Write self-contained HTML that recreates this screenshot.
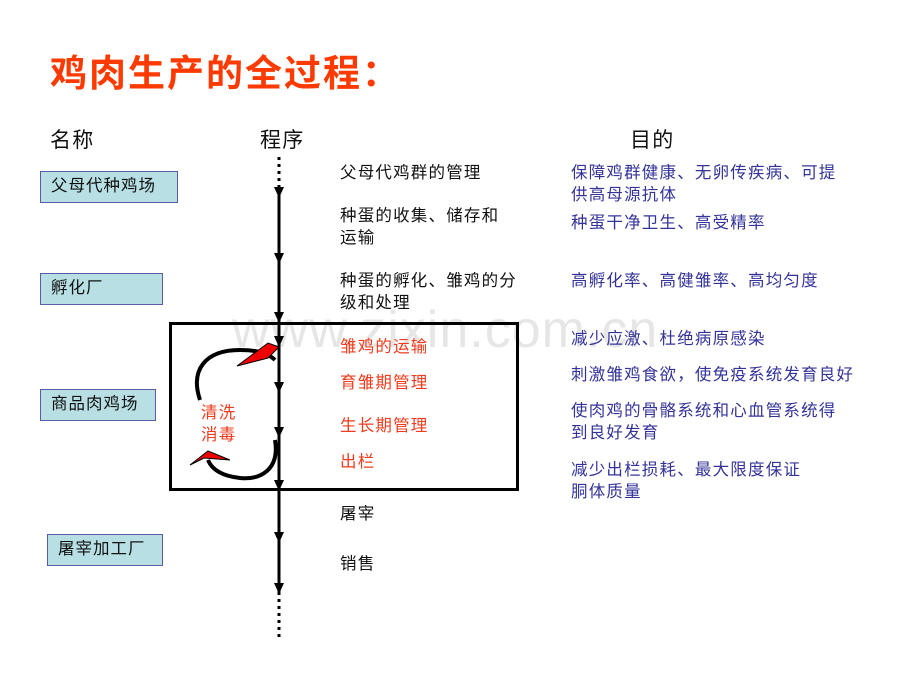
<!DOCTYPE html>
<html><head><meta charset="utf-8"><style>
html,body{margin:0;padding:0;background:#fff;}
body{width:920px;height:690px;position:relative;overflow:hidden;font-family:"Liberation Sans","Noto Sans CJK SC",sans-serif;}
.t{position:absolute;white-space:nowrap;font-size:16.5px;line-height:22px;letter-spacing:1.2px;}
.k{color:#111;}
.r{color:#f03c1e;}
.b{color:#33339a;}
.box{position:absolute;background:#b8e0e4;border:1.5px solid #5a5aa8;font-size:16.5px;letter-spacing:1px;line-height:28px;padding-left:10px;box-sizing:border-box;color:#111;}
</style></head><body>
<div class="t" style="left:50px;top:50px;font-size:37px;line-height:48px;font-weight:bold;color:#ff3a00;letter-spacing:2px;">鸡肉生产的全过程：</div>
<div class="t" style="left:50px;top:127px;font-size:21px;line-height:28px;color:#111;">名称</div>
<div class="t" style="left:260px;top:127px;font-size:21px;line-height:28px;color:#111;">程序</div>
<div class="t" style="left:630px;top:127px;font-size:21px;line-height:28px;color:#111;">目的</div>

<div class="box" style="left:40px;top:171px;width:138px;height:32px;">父母代种鸡场</div>
<div class="box" style="left:40px;top:273px;width:123px;height:32px;">孵化厂</div>
<div class="box" style="left:40px;top:389px;width:116px;height:32px;">商品肉鸡场</div>
<div class="box" style="left:47px;top:534px;width:116px;height:32px;">屠宰加工厂</div>

<div style="position:absolute;left:232px;top:300px;font-size:52px;color:#e6e6e6;font-family:'Liberation Sans',sans-serif;letter-spacing:1px;">www.zixin.com.cn</div>

<svg width="920" height="690" style="position:absolute;left:0;top:0">
<g stroke="#000" stroke-width="3">
<line x1="279" y1="157" x2="279" y2="190" stroke-dasharray="3,4"/>
<line x1="279" y1="190" x2="279" y2="592"/>
<line x1="279" y1="592" x2="279" y2="640" stroke-dasharray="3,4"/>
</g>
<g fill="#000">
<polygon points="274,187 284,187 279,198"/>
<polygon points="274,253 284,253 279,264"/>
<polygon points="274,312 284,312 279,323"/>
<polygon points="274,336 284,336 279,347"/>
<polygon points="274,382 284,382 279,393"/>
<polygon points="274,427 284,427 279,438"/>
<polygon points="274,480 284,480 279,491"/>
<polygon points="274,532 284,532 279,543"/>
<polygon points="274,583 284,583 279,594"/>
</g>
<rect x="170.5" y="323.5" width="347" height="166" fill="none" stroke="#000" stroke-width="3"/>
<path d="M200,400 C190,370 205,350 240,350 C260,350 270,355 275,360" fill="none" stroke="#000" stroke-width="4"/>
<polygon points="237,366 268,343 279,347 268,358" fill="#e00" stroke="#000" stroke-width="1"/>
<path d="M275,440 C280,470 260,480 240,478 C222,476 212,470 208,460" fill="none" stroke="#000" stroke-width="4"/>
<polygon points="190,465 208,451 230,460 204,458" fill="#e00" stroke="#000" stroke-width="1"/>
</svg>

<div class="t k" style="left:340px;top:162px;">父母代鸡群的管理</div>
<div class="t k" style="left:340px;top:205px;">种蛋的收集、储存和<br>运输</div>
<div class="t k" style="left:340px;top:270px;">种蛋的孵化、雏鸡的分<br>级和处理</div>
<div class="t r" style="left:340px;top:336px;">雏鸡的运输</div>
<div class="t r" style="left:340px;top:372px;">育雏期管理</div>
<div class="t r" style="left:340px;top:415px;">生长期管理</div>
<div class="t r" style="left:340px;top:451px;">出栏</div>
<div class="t r" style="left:201px;top:402px;">清洗<br>消毒</div>
<div class="t k" style="left:340px;top:503px;">屠宰</div>
<div class="t k" style="left:340px;top:553px;">销售</div>

<div class="t b" style="left:571px;top:162px;">保障鸡群健康、无卵传疾病、可提<br>供高母源抗体</div>
<div class="t b" style="left:571px;top:212px;">种蛋干净卫生、高受精率</div>
<div class="t b" style="left:571px;top:270px;">高孵化率、高健雏率、高均匀度</div>
<div class="t b" style="left:571px;top:328px;">减少应激、杜绝病原感染</div>
<div class="t b" style="left:571px;top:364px;">刺激雏鸡食欲，使免疫系统发育良好</div>
<div class="t b" style="left:571px;top:400px;">使肉鸡的骨骼系统和心血管系统得<br>到良好发育</div>
<div class="t b" style="left:571px;top:459px;">减少出栏损耗、最大限度保证<br>胴体质量</div>
</body></html>
